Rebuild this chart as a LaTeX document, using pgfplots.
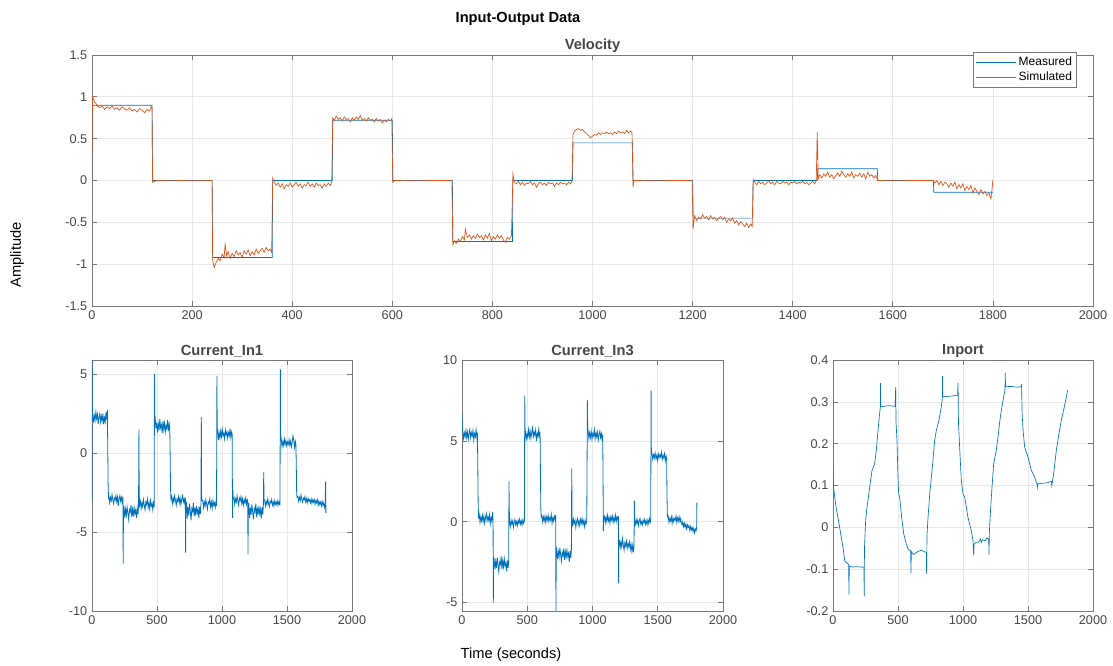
\documentclass[border=0pt]{standalone}
\usepackage{fontspec}
\setmainfont{Liberation Sans}
\usepackage{pgfplots}
\pgfplotsset{compat=1.18}

\definecolor{mblue}{RGB}{0,114,189}
\definecolor{morange}{RGB}{217,83,25}
\definecolor{axc}{RGB}{120,120,120}
\definecolor{txc}{RGB}{70,70,70}

\pgfplotsset{
  mstyle/.style={
    scale only axis,
    axis line style={draw=axc, line width=0.6pt},
    tick style={draw=axc, line width=0.5pt},
    tick align=inside,
    major tick length=4pt,
    grid=major,
    grid style={gray!18, line width=0.5pt},
    ticklabel style={font=\fontsize{9.5}{11}\selectfont, text=txc},
    title style={font=\fontsize{11}{12}\selectfont\bfseries, text=txc, inner sep=2pt, yshift=-6.5pt},
    /pgf/number format/assume math mode=true,
    /pgf/number format/set thousands separator={},
    scaled ticks=false,
    xmin=0, xmax=2000,
  },
}

\begin{document}
\begin{tikzpicture}
\useasboundingbox (0pt,0pt) rectangle (834.75pt,499.5pt);

\node[font=\fontsize{11}{12}\selectfont\bfseries] at (388.5pt,485pt) {Input-Output Data};
\node[font=\fontsize{11}{12}\selectfont, rotate=90] at (12.75pt,308.25pt) {Amplitude};
\node[font=\fontsize{11}{12}\selectfont] at (383.25pt,8.25pt) {Time (seconds)};

% top: velocity
\begin{axis}[mstyle,
  at={(69pt,270pt)}, anchor=south west,
  width=750.75pt, height=188.25pt,
  ymin=-1.5, ymax=1.5,
  xtick={0,200,...,2000},
  ytick={-1.5,-1,-0.5,0,0.5,1,1.5},
  title={Velocity},
  legend style={at={(rel axis cs:0.984,1.012)}, anchor=north east, draw=axc,
    font=\fontsize{9}{10}\selectfont, inner sep=1.5pt, row sep=-1pt, cells={anchor=west}},
  legend image code/.code={\draw[#1] (0pt,0pt) -- (30pt,0pt);},
]
\addplot[mblue, line width=0.5pt] coordinates {
(0,0) (1,0.9) (120,0.9) (121,0) (240,0) (241,-0.92) (360,-0.92) (361,0) (480,0)
(481,0.72) (600,0.72) (601,0) (720,0) (721,-0.73) (840,-0.73) (841,0) (960,0)
(961,0.45) (1080,0.45) (1081,0) (1200,0) (1201,-0.45) (1320,-0.45) (1321,0)
(1449,0) (1450,0.14) (1569,0.14) (1570,0) (1681,0) (1682,-0.14) (1800,-0.14)
};
\addlegendentry{Measured}
\addplot[morange, line width=0.5pt] coordinates {
(0,0) (1,1.0) (3,0.97) (5,0.94) (8,0.92)
(10,0.90) (15,0.87) (20,0.89) (25,0.85) (30,0.88) (35,0.86) (40,0.89) (45,0.85)
(50,0.87) (55,0.84) (60,0.88) (65,0.86) (70,0.84) (75,0.87) (80,0.83) (85,0.85)
(90,0.82) (95,0.86) (100,0.84) (105,0.81) (110,0.85) (115,0.83) (118,0.88) (120,0.86)
(121,-0.02) (130,0) (150,-0.003) (180,0) (200,-0.003) (240,0)
(241,-0.95) (244,-1.04) (248,-0.98) (252,-0.93) (256,-0.96) (260,-0.88) (264,-0.92)
(266,-0.76) (269,-0.90) (272,-0.85) (276,-0.93) (280,-0.87) (284,-0.91) (288,-0.84)
(292,-0.89) (296,-0.86) (300,-0.92) (304,-0.84) (308,-0.88) (312,-0.83) (316,-0.90)
(320,-0.85) (324,-0.89) (328,-0.82) (332,-0.87) (336,-0.84) (340,-0.81) (344,-0.86)
(348,-0.80) (352,-0.84) (356,-0.82) (359,-0.86)
(361,0.03) (364,-0.02) (368,-0.06) (372,-0.03) (376,-0.08) (380,-0.04) (384,-0.10)
(388,-0.05) (392,-0.07) (396,-0.03) (400,-0.08) (404,-0.05) (408,-0.02) (412,-0.07)
(416,-0.04) (420,-0.09) (424,-0.05) (428,-0.06) (432,-0.02) (436,-0.07) (440,-0.04)
(444,-0.08) (448,-0.03) (452,-0.06) (456,-0.05) (460,-0.09) (464,-0.04) (468,-0.07)
(472,-0.03) (476,-0.06) (479,-0.02)
(481,0.75) (484,0.72) (488,0.77) (492,0.73) (496,0.75) (500,0.71) (504,0.76)
(508,0.73) (512,0.74) (516,0.70) (520,0.75) (524,0.72) (528,0.76) (532,0.73)
(536,0.78) (540,0.72) (544,0.74) (548,0.71) (552,0.75) (556,0.72) (560,0.73)
(564,0.70) (568,0.74) (572,0.71) (576,0.73) (580,0.69) (584,0.72) (588,0.70)
(592,0.73) (596,0.71) (599,0.74)
(601,-0.02) (605,0) (640,-0.003) (680,0) (719,0)
(721,-0.77) (724,-0.72) (728,-0.75) (732,-0.70) (736,-0.73) (740,-0.67) (744,-0.71)
(746,-0.58) (750,-0.68) (754,-0.65) (758,-0.70) (762,-0.66) (766,-0.69) (770,-0.64)
(774,-0.68) (778,-0.66) (782,-0.71) (786,-0.65) (790,-0.69) (794,-0.63) (798,-0.72)
(802,-0.67) (806,-0.70) (810,-0.65) (814,-0.69) (818,-0.66) (822,-0.71) (826,-0.74)
(830,-0.68) (834,-0.70) (838,-0.66)
(841,0.08) (844,-0.02) (848,-0.04) (852,-0.01) (856,-0.05) (860,-0.02) (864,-0.06)
(868,-0.03) (872,-0.04) (876,-0.01) (880,-0.05) (884,-0.03) (888,-0.08) (892,-0.04)
(896,-0.02) (900,-0.05) (904,-0.03) (908,-0.06) (912,-0.02) (916,-0.04) (920,-0.03)
(924,-0.07) (928,-0.03) (932,-0.05) (936,-0.02) (940,-0.04) (944,-0.03) (948,-0.05)
(952,-0.02) (956,-0.04) (959,-0.01)
(961,0.55) (964,0.59) (968,0.61) (972,0.62) (976,0.60) (980,0.61) (984,0.58)
(988,0.56) (992,0.54) (996,0.51) (1000,0.53) (1004,0.55) (1008,0.54) (1012,0.57)
(1016,0.55) (1020,0.57) (1024,0.56) (1028,0.58) (1032,0.56) (1036,0.57) (1040,0.55)
(1044,0.58) (1048,0.56) (1052,0.59) (1056,0.57) (1060,0.58) (1064,0.56) (1068,0.60)
(1072,0.57) (1076,0.59) (1079,0.57)
(1081,-0.08) (1083,0) (1120,-0.003) (1160,0) (1199,0)
(1201,-0.58) (1204,-0.42) (1208,-0.48) (1212,-0.44) (1216,-0.46) (1220,-0.41)
(1224,-0.45) (1228,-0.43) (1232,-0.47) (1236,-0.42) (1240,-0.46) (1244,-0.44)
(1248,-0.48) (1252,-0.45) (1256,-0.43) (1260,-0.47) (1264,-0.44) (1268,-0.50)
(1272,-0.46) (1276,-0.48) (1280,-0.45) (1284,-0.51) (1288,-0.48) (1292,-0.53)
(1296,-0.49) (1300,-0.52) (1304,-0.55) (1308,-0.51) (1312,-0.56) (1316,-0.52) (1319,-0.55)
(1321,0.01) (1324,-0.02) (1328,-0.05) (1332,-0.01) (1336,-0.04) (1340,-0.02)
(1344,-0.05) (1348,-0.03) (1352,0.00) (1356,-0.04) (1360,-0.02) (1364,-0.05)
(1368,-0.01) (1372,-0.03) (1376,-0.04) (1380,-0.01) (1384,-0.03) (1388,-0.02)
(1392,-0.05) (1396,-0.02) (1400,-0.03) (1404,-0.01) (1408,-0.04) (1412,-0.02)
(1416,-0.03) (1420,-0.01) (1424,-0.04) (1428,-0.02) (1432,-0.05) (1436,-0.03)
(1440,-0.01) (1444,-0.04) (1447,0.0)
(1449,0.58) (1451,0.02) (1454,0.07) (1458,0.03) (1462,0.08) (1466,0.05) (1470,0.10)
(1474,0.04) (1478,0.07) (1482,0.02) (1486,0.06) (1490,0.09) (1494,0.05) (1498,0.11)
(1502,0.07) (1506,0.04) (1510,0.08) (1514,0.05) (1518,0.10) (1522,0.03) (1526,0.07)
(1530,0.05) (1534,0.09) (1538,0.04) (1542,0.08) (1546,0.02) (1550,0.10) (1554,0.05)
(1558,0.07) (1562,0.03) (1566,0.06) (1569,0.01)
(1571,0) (1600,-0.003) (1640,0) (1680,0)
(1684,-0.03) (1688,0.00) (1692,-0.05) (1696,-0.01) (1700,-0.06) (1704,-0.02)
(1708,-0.04) (1712,-0.08) (1716,-0.03) (1720,-0.07) (1724,-0.02) (1728,-0.10)
(1732,-0.05) (1736,-0.09) (1740,-0.04) (1744,-0.12) (1748,-0.07) (1752,-0.11)
(1756,-0.06) (1760,-0.15) (1764,-0.09) (1768,-0.13) (1772,-0.17) (1776,-0.11)
(1780,-0.16) (1784,-0.13) (1788,-0.18) (1792,-0.15) (1796,-0.22) (1798,-0.12) (1800,0.01)
};
\addlegendentry{Simulated}
\end{axis}

% bottom left: Current_In1
\begin{axis}[mstyle,
  at={(69pt,41.25pt)}, anchor=south west,
  width=195pt, height=188.25pt,
  ymin=-10, ymax=5.9,
  xtick={0,500,...,2000},
  ytick={-10,-5,0,5},
  title={Current\_In1},
]
\addplot[mblue, line width=0.6pt] coordinates {
(0,-3.0) (0.5,5.9) (2,3.1) (4,2.6)
(6,2.49) (12,1.93) (18,2.37) (24,2.09) (30,2.61) (36,2.17) (42,2.45) (48,1.85)
(54,2.27) (60,2.50) (66,1.98) (72,2.36) (78,2.05) (84,2.50) (90,1.82) (96,2.25)
(102,1.98) (108,2.60) (114,2.10) (118,2.75) (121,0.5) (124,-2.0) (127,-2.8)
(130,-2.72) (136,-3.14) (142,-2.81) (148,-3.02) (154,-2.63) (160,-2.96) (166,-3.20)
(172,-2.85) (178,-2.97) (184,-2.69) (190,-3.08) (196,-2.78) (202,-3.35) (208,-2.88)
(214,-2.70) (220,-3.05) (226,-2.80) (232,-3.10) (238,-2.75) (240,-7.0) (242,-3.6)
(246,-3.35) (252,-4.10) (258,-3.55) (264,-3.95) (270,-3.40) (276,-3.80) (282,-4.20)
(288,-3.60) (294,-3.75) (300,-3.30) (306,-4.05) (312,-3.55) (318,-4.00) (324,-3.45)
(330,-3.85) (336,-3.60) (342,-4.10) (348,-3.50) (354,-3.90) (358,-3.40)
(361,1.5) (363,-2.5) (366,-3.3)
(372,-3.05) (378,-3.50) (384,-3.15) (390,-3.40) (396,-2.95) (402,-3.30) (408,-3.60)
(414,-3.10) (420,-3.25) (426,-2.90) (432,-3.45) (438,-3.15) (444,-3.55) (450,-3.00)
(456,-3.35) (462,-3.20) (468,-3.60) (474,-3.05) (478,-3.40) (481,5.0) (483,2.2)
(486,2.25) (492,1.55) (498,1.95) (504,1.30) (510,1.85) (516,1.45) (522,2.15)
(528,1.60) (534,1.80) (540,1.25) (546,2.05) (552,1.50) (558,1.90) (564,1.35)
(570,1.75) (576,1.55) (582,2.10) (588,1.40) (594,1.85) (598,1.60)
(601,0.0) (604,-2.2) (607,-2.9)
(612,-2.75) (618,-3.20) (624,-2.85) (630,-3.10) (636,-2.70) (642,-3.00) (648,-3.30)
(654,-2.90) (660,-3.05) (666,-2.75) (672,-3.15) (678,-2.85) (684,-3.25) (690,-2.95)
(696,-2.70) (702,-3.10) (708,-2.90) (714,-3.20) (718,-2.80) (720,-6.3) (722,-3.5)
(726,-3.10) (732,-4.15) (738,-3.40) (744,-3.95) (750,-3.20) (756,-3.70) (762,-4.25)
(768,-3.50) (774,-3.70) (780,-3.15) (786,-4.00) (792,-3.45) (798,-3.95) (804,-3.35)
(810,-3.80) (816,-3.55) (822,-4.10) (828,-3.40) (834,-3.85) (838,-3.30)
(841,2.3) (843,-2.6) (846,-3.0)
(852,-3.00) (858,-3.45) (864,-3.10) (870,-3.35) (876,-2.95) (882,-3.25) (888,-3.55)
(894,-3.10) (900,-3.20) (906,-2.90) (912,-3.40) (918,-3.10) (924,-3.50) (930,-3.00)
(936,-3.30) (942,-3.15) (948,-3.45) (954,-3.05) (958,-3.35) (961,4.9) (963,1.6)
(966,1.45) (972,0.85) (978,1.30) (984,0.95) (990,1.40) (996,1.05) (1002,1.50)
(1008,1.10) (1014,1.25) (1020,0.90) (1026,1.45) (1032,1.15) (1038,1.35) (1044,0.95)
(1050,1.30) (1056,1.10) (1062,1.55) (1068,1.00) (1074,1.35) (1078,1.20)
(1081,-4.1) (1083,-2.3) (1086,-2.9)
(1092,-2.80) (1098,-3.25) (1104,-2.90) (1110,-3.10) (1116,-2.70) (1122,-3.05)
(1128,-3.30) (1134,-2.85) (1140,-3.00) (1146,-2.75) (1152,-3.20) (1158,-2.90)
(1164,-3.30) (1170,-2.95) (1176,-3.15) (1182,-2.85) (1188,-3.25) (1194,-2.95)
(1198,-3.10) (1200,-6.4) (1202,-3.4)
(1206,-3.15) (1212,-4.10) (1218,-3.45) (1224,-3.90) (1230,-3.25) (1236,-3.75)
(1242,-4.20) (1248,-3.50) (1254,-3.70) (1260,-3.20) (1266,-4.05) (1272,-3.45)
(1278,-3.90) (1284,-3.35) (1290,-3.85) (1296,-3.55) (1302,-4.15) (1308,-3.40)
(1314,-3.90) (1318,-3.35) (1321,-1.2) (1323,-2.9)
(1328,-3.00) (1334,-3.35) (1340,-3.05) (1346,-3.25) (1352,-2.90) (1358,-3.20)
(1364,-3.40) (1370,-3.05) (1376,-3.15) (1382,-2.95) (1388,-3.30) (1394,-3.10)
(1400,-3.35) (1406,-3.00) (1412,-3.25) (1418,-3.10) (1424,-3.30) (1430,-3.00)
(1436,-3.25) (1442,-3.10) (1446,-3.30) (1449,5.3) (1451,1.2)
(1456,0.85) (1462,0.40) (1468,0.75) (1474,0.50) (1480,0.90) (1486,0.55) (1492,0.80)
(1498,0.45) (1504,0.70) (1510,0.55) (1516,0.85) (1522,0.50) (1528,0.75) (1534,0.40)
(1540,0.70) (1546,1.10) (1552,0.80) (1558,0.35) (1564,0.75) (1568,0.60)
(1571,-0.5) (1574,-2.4) (1577,-2.8)
(1584,-2.75) (1590,-3.05) (1596,-2.80) (1602,-3.00) (1608,-2.65) (1614,-2.95)
(1620,-3.10) (1626,-2.85) (1632,-2.95) (1638,-2.75) (1644,-3.10) (1650,-2.90)
(1656,-3.15) (1662,-2.85) (1668,-3.05) (1674,-2.95) (1680,-3.15) (1686,-2.90)
(1692,-3.20) (1698,-2.95) (1704,-3.10) (1710,-2.95) (1716,-3.25) (1722,-3.00)
(1728,-3.15) (1734,-2.95) (1740,-3.30) (1746,-3.05) (1752,-3.25) (1758,-3.10)
(1764,-3.35) (1770,-3.05) (1776,-3.30) (1782,-3.15) (1788,-3.45) (1794,-3.20)
(1797,-1.8) (1799,-3.8) (1800,-3.3)
};
\end{axis}

% bottom middle: Current_In3
\begin{axis}[mstyle,
  at={(346.5pt,41.25pt)}, anchor=south west,
  width=195.75pt, height=188.25pt,
  ymin=-5.52, ymax=10,
  xtick={0,500,...,2000},
  ytick={-5,0,5,10},
  title={Current\_In3},
]
\addplot[mblue, line width=0.6pt] coordinates {
(0,6.7) (2,5.9)
(6,5.60) (12,5.15) (18,5.50) (24,5.25) (30,5.65) (36,5.20) (42,5.55) (48,5.10)
(54,5.45) (60,5.70) (66,5.20) (72,5.50) (78,5.30) (84,5.65) (90,5.05) (96,5.45)
(102,5.25) (108,5.70) (114,5.20) (118,5.50) (121,3.5) (124,1.0) (127,0.3)
(132,0.45) (138,-0.05) (144,0.30) (150,0.05) (156,0.40) (162,0.00) (168,0.35)
(174,-0.10) (180,0.25) (186,0.50) (192,0.05) (198,0.30) (204,0.10) (210,0.45)
(216,-0.15) (222,0.25) (228,0.05) (234,0.60) (238,0.15) (240,-5.0) (242,-2.2)
(246,-2.30) (252,-2.95) (258,-2.45) (264,-2.85) (270,-2.20) (276,-2.70) (282,-3.10)
(288,-2.50) (294,-2.65) (300,-2.15) (306,-2.95) (312,-2.40) (318,-2.80) (324,-2.30)
(330,-2.75) (336,-2.55) (342,-3.05) (348,-2.40) (354,-2.85) (358,-2.35)
(360,2.5) (362,1.0) (364,0.0)
(370,-0.30) (376,0.10) (382,-0.15) (388,0.05) (394,-0.35) (400,-0.05) (406,0.15)
(412,-0.20) (418,0.00) (424,-0.25) (430,0.10) (436,-0.10) (442,0.15) (448,-0.15)
(454,0.05) (460,-0.20) (466,0.10) (472,-0.10) (478,0.05) (481,7.8) (483,5.8)
(486,5.55) (492,5.10) (498,5.45) (504,5.20) (510,5.70) (516,5.25) (522,5.60)
(528,5.15) (534,5.50) (540,5.80) (546,5.25) (552,5.55) (558,5.35) (564,5.65)
(570,5.00) (576,5.45) (582,5.25) (588,5.70) (594,5.20) (598,5.55)
(601,3.0) (604,0.8) (607,0.3)
(612,0.40) (618,0.00) (624,0.30) (630,0.05) (636,0.35) (642,-0.05) (648,0.30)
(654,0.10) (660,0.40) (666,0.00) (672,0.25) (678,0.10) (684,0.45) (690,-0.10)
(696,0.25) (702,0.05) (708,0.35) (714,0.15) (718,0.40) (720,-5.8) (722,-1.6)
(726,-1.75) (732,-2.30) (738,-1.85) (744,-2.20) (750,-1.60) (756,-2.05) (762,-2.45)
(768,-1.90) (774,-2.10) (780,-1.65) (786,-2.35) (792,-1.85) (798,-2.20) (804,-1.75)
(810,-2.15) (816,-1.95) (822,-2.50) (828,-1.80) (834,-2.25) (838,-1.75)
(841,3.3) (843,0.3)
(848,-0.30) (854,0.15) (860,-0.10) (866,0.10) (872,-0.35) (878,0.00) (884,0.20)
(890,-0.20) (896,0.05) (902,-0.25) (908,0.15) (914,-0.10) (920,0.20) (926,-0.15)
(932,0.05) (938,-0.30) (944,0.10) (950,-0.15) (956,0.05) (961,7.5) (963,5.9)
(966,5.65) (972,5.15) (978,5.50) (984,5.20) (990,5.60) (996,5.10) (1002,5.45)
(1008,5.30) (1014,5.70) (1020,5.15) (1026,5.50) (1032,5.25) (1038,5.55) (1044,5.05)
(1050,5.40) (1056,5.60) (1062,5.20) (1068,5.45) (1074,5.00) (1078,5.40)
(1081,2.5) (1083,-0.6) (1086,0.3)
(1092,0.35) (1098,-0.05) (1104,0.30) (1110,0.00) (1116,0.40) (1122,0.05) (1128,0.25)
(1134,-0.10) (1140,0.30) (1146,0.10) (1152,0.35) (1158,-0.05) (1164,0.25) (1170,0.05)
(1176,0.40) (1182,0.00) (1188,0.30) (1194,0.10) (1198,0.35) (1200,-3.8) (1202,-1.1)
(1206,-1.15) (1212,-1.60) (1218,-1.25) (1224,-1.55) (1230,-1.05) (1236,-1.45)
(1242,-1.75) (1248,-1.30) (1254,-1.50) (1260,-1.20) (1266,-1.65) (1272,-1.35)
(1278,-1.55) (1284,-1.25) (1290,-1.70) (1296,-1.40) (1302,-1.85) (1308,-1.45)
(1314,-1.90) (1318,-1.50) (1321,1.3) (1323,-0.3)
(1328,-0.20) (1334,0.15) (1340,-0.10) (1346,0.10) (1352,-0.25) (1358,0.05)
(1364,0.20) (1370,-0.15) (1376,0.00) (1382,-0.20) (1388,0.10) (1394,-0.05)
(1400,0.15) (1406,-0.15) (1412,0.05) (1418,-0.20) (1424,0.10) (1430,-0.10)
(1436,0.20) (1442,-0.05) (1446,0.10) (1449,8.1) (1451,4.4)
(1456,4.20) (1462,3.85) (1468,4.15) (1474,3.95) (1480,4.25) (1486,3.90) (1492,4.10)
(1498,3.80) (1504,4.20) (1510,3.95) (1516,4.15) (1522,4.00) (1528,4.30) (1534,3.85)
(1540,4.10) (1546,3.95) (1552,4.20) (1558,3.75) (1564,4.05) (1568,3.90)
(1571,1.5) (1574,0.3)
(1580,0.35) (1586,-0.05) (1592,0.20) (1598,0.05) (1604,0.30) (1610,-0.10)
(1616,0.25) (1622,0.00) (1628,0.20) (1634,0.10) (1640,0.35) (1646,-0.05)
(1652,0.25) (1658,0.05) (1664,0.30) (1670,0.00) (1676,0.20) (1680,-0.05)
(1686,-0.20) (1692,0.00) (1698,-0.30) (1704,-0.10) (1710,-0.35) (1716,-0.15)
(1722,-0.45) (1728,-0.20) (1734,-0.35) (1740,-0.25) (1746,-0.55) (1752,-0.30)
(1758,-0.50) (1764,-0.35) (1770,-0.60) (1776,-0.40) (1782,-0.70) (1788,-0.45)
(1794,-0.55) (1798,-0.35) (1800,1.2)
};
\end{axis}

% bottom right: Inport
\begin{axis}[mstyle,
  at={(624.75pt,41.25pt)}, anchor=south west,
  width=195pt, height=188.25pt,
  ymin=-0.2, ymax=0.4,
  xtick={0,500,...,2000},
  ytick={-0.2,-0.1,0,0.1,0.2,0.3,0.4},
  yticklabel style={/pgf/number format/fixed},
  title={Inport},
]
\addplot[mblue, line width=0.5pt] coordinates {
(0,0.14) (3,0.10) (13,0.072) (25,0.045) (38,0.024) (51,0.0) (64,-0.025) (77,-0.048)
(90,-0.08) (100,-0.084) (110,-0.086) (120,-0.088) (123,-0.16) (125,-0.092)
(150,-0.095) (180,-0.094) (210,-0.095) (238,-0.095) (240,-0.165) (242,-0.05)
(251,0.016) (260,0.045) (269,0.064) (282,0.096) (300,0.136) (320,0.152) (333,0.184)
(351,0.248) (364,0.288) (365,0.345) (367,0.288) (400,0.29) (440,0.291) (478,0.289)
(482,0.335) (485,0.25) (492,0.208) (500,0.12) (505,0.08) (513,0.072) (528,0.024)
(544,-0.016) (564,-0.04) (577,-0.052) (597,-0.056) (600,-0.11) (602,-0.058)
(620,-0.065) (640,-0.06) (660,-0.057) (680,-0.055) (700,-0.058) (718,-0.06)
(720,-0.112) (723,-0.02) (731,0.024) (744,0.08) (764,0.144) (782,0.208) (795,0.232)
(815,0.256) (833,0.288) (841,0.308) (842,0.362) (844,0.312) (880,0.313) (920,0.314)
(958,0.316) (962,0.345) (965,0.25) (974,0.192) (987,0.112) (1000,0.08) (1013,0.072)
(1038,0.024) (1064,-0.008) (1077,-0.032) (1082,-0.067) (1085,-0.04) (1100,-0.036)
(1120,-0.035) (1135,-0.028) (1140,-0.036) (1150,-0.03) (1170,-0.032) (1185,-0.025)
(1198,-0.03) (1200,-0.065) (1203,-0.01) (1210,0.032) (1223,0.096) (1236,0.152)
(1256,0.184) (1269,0.216) (1287,0.264) (1308,0.304) (1323,0.328) (1325,0.37)
(1327,0.336) (1370,0.337) (1410,0.335) (1448,0.336) (1450,0.342) (1455,0.27)
(1462,0.232) (1474,0.192) (1500,0.168) (1526,0.136) (1551,0.12) (1569,0.104)
(1572,0.095) (1575,0.104) (1600,0.105) (1640,0.106) (1680,0.11) (1683,0.1)
(1697,0.128) (1718,0.184) (1738,0.224) (1756,0.256) (1774,0.28) (1795,0.312) (1805,0.328)
};
\end{axis}
\end{tikzpicture}
\end{document}
